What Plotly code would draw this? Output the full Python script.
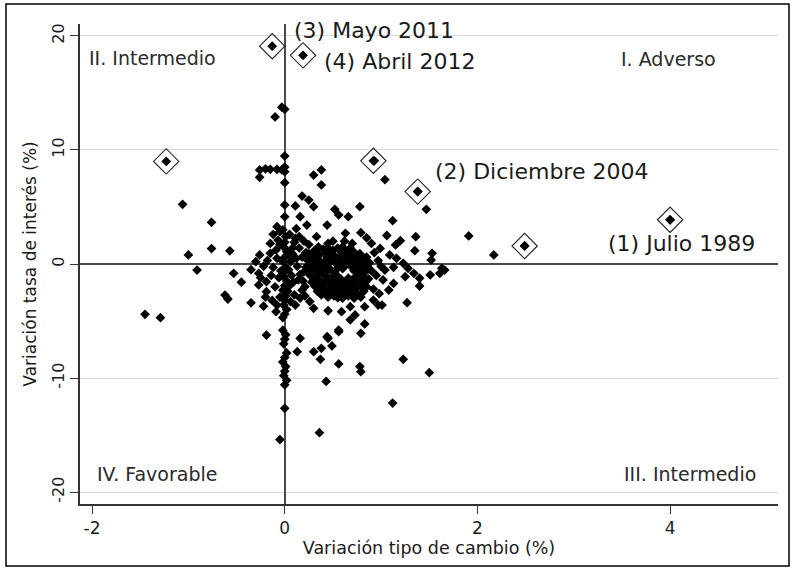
import plotly.graph_objects as go

# Monthly observations: exchange-rate change (x, %) vs interest-rate change (y, %)
x_var = [
    # left / outlying points
    -1.06, -0.76, -0.76, -0.57, -1.00, -0.91, -0.53, -1.45, -1.29, -0.62, -0.59, -0.35,
    -0.22, -0.19, -0.27, -0.27, -0.19, -0.19, -0.26, -0.15, -0.09, -0.09, -0.05, 0.00,
    -0.15, -0.08, -0.05,
    # upper strip near zero
    -0.10, -0.03, 0.00, 0.00, -0.26, -0.20, -0.15, -0.08, -0.03, 0.00, -0.26, 0.00,
    0.00, 0.11, 0.00,
    # upper middle / right
    0.18, 0.25, 0.30, 0.30, 0.38, 0.38, 0.78, 1.04, 1.12, 0.93, 1.38, 1.47,
    1.91, 0.52, 0.56, 0.66, 0.44, 0.16, 0.23, 0.79, 0.63, 0.33, 0.11, 1.06,
    1.20, 1.36, 0.90, 1.15, 1.35, 1.53, 1.52, 2.17, 2.49, 4.00, 1.09, 1.16,
    1.23, 1.28, 1.63, 1.61, 1.51, 1.66, 1.04, 1.13, 1.25, 1.34, 1.40, 1.40,
    1.13, 1.08, 1.27, 1.01, 0.99,
    # lower
    0.30, 0.45, 0.59, 0.68, 0.73, 0.68, 0.83, 0.92, 0.97, 0.42, 0.21, 0.56,
    0.83, 0.16, 0.45, 0.13, 0.44, 0.56, 0.79, 0.30, 0.38, 0.49, 0.37, 0.56,
    0.78, 0.79, 1.23, 1.50, 0.43, 1.12, 0.36,
    # vertical strip at zero
    0.00, -0.02, 0.01, 0.00, -0.01, 0.02, 0.00, -0.02, 0.01, 0.00, -0.01, 0.02,
    0.00, -0.02, 0.01, 0.00, -0.01, 0.02, 0.00, -0.02, 0.01, 0.00, -0.01, 0.02,
    0.00, -0.02, 0.01, 0.00, -0.01, 0.02, 0.00, -0.02,
    # dense core
    0.25, 0.32, 0.40, 0.48, 0.55, 0.62, 0.70, 0.78, 0.85,
    0.24, 0.30, 0.37, 0.44, 0.51, 0.58, 0.66, 0.73, 0.81, 0.88,
    0.22, 0.29, 0.35, 0.42, 0.49, 0.55, 0.61, 0.69, 0.76, 0.83, 0.90,
    0.26, 0.33, 0.40, 0.47, 0.54, 0.74, 0.81, 0.87,
    0.28, 0.36, 0.43, 0.50, 0.57, 0.64, 0.71, 0.78, 0.85,
    0.34, 0.41, 0.48, 0.55, 0.62, 0.69, 0.76, 0.82,
    0.45, 0.60, 0.72, 0.58, 0.66, 0.60, 0.39, 0.52, 0.45, 0.31, 0.67, 0.75,
    0.28, 0.36, 0.44, 0.52, 0.59, 0.67, 0.75, 0.82,
    0.27, 0.33, 0.40, 0.47, 0.54, 0.62, 0.70, 0.77, 0.85,
    0.25, 0.31, 0.38, 0.45, 0.52, 0.58, 0.72, 0.79, 0.86,
    0.30, 0.37, 0.44, 0.51, 0.57, 0.63, 0.70, 0.77, 0.84,
    0.32, 0.39, 0.46, 0.53, 0.60, 0.67, 0.74, 0.81,
    0.38, 0.51, 0.58, 0.66, 0.79, 0.35, 0.45, 0.60, 0.68, 0.50,
    0.26, 0.34, 0.42, 0.50, 0.58, 0.66, 0.74, 0.82,
    0.30, 0.38, 0.46, 0.54, 0.71, 0.79, 0.87,
    0.27, 0.35, 0.43, 0.51, 0.59, 0.67, 0.75, 0.83,
    0.33, 0.41, 0.49, 0.57, 0.65, 0.73, 0.81,
    0.40, 0.48, 0.56, 0.64, 0.72, 0.31, 0.47, 0.63, 0.79, 0.55,
    # between zero line and core
    0.05, 0.10, 0.15, 0.08, 0.18, 0.06, 0.13, 0.20, 0.07, 0.14, 0.05, 0.18,
    0.10, 0.06, 0.16, 0.20, 0.25, 0.12,
    0.03, 0.04, 0.09, 0.12, 0.16, 0.03, 0.11, 0.08, 0.15, 0.19, 0.22, 0.21, 0.26,
    -0.08, -0.12, -0.06, -0.10, -0.05, -0.13, -0.07, -0.04,
    -0.18, -0.22, -0.25, -0.14, -0.20, -0.08, -0.30, -0.12, -0.05, -0.35, -0.45,
    0.93, 0.97, 1.00, 0.95, 1.02, 0.92, 0.98, 0.50, 0.70, 0.45, 0.62, 0.85,
]
y_var = [
    5.24, 3.66, 1.35, 1.16, 0.79, -0.53, -0.82, -4.41, -4.71, -2.72, -3.07, -3.40,
    -3.70, -6.23, -0.82, -1.84, -1.55, -2.43, 0.79, 0.94, 1.23, -4.18, -15.40, -12.66,
    1.80, 3.27, 2.83,
    12.90, 13.75, 13.57, 9.47, 8.25, 8.35, 8.30, 8.30, 8.25, 8.50, 7.60, 8.10,
    7.13, 5.09, 5.18,
    5.96, 5.61, 5.03, 7.80, 8.25, 6.93, 5.03, 7.40, 3.80, 9.05, 6.35, 4.80,
    2.46, 4.80, 4.30, 4.15, 3.42, 4.15, 3.42, 2.75, 2.69, 2.40, 2.25, 2.50,
    2.05, 2.40, 1.80, 1.67, 1.17, 0.94, 0.35, 0.79, 1.58, 3.88, 0.79, 0.50,
    0.06, -0.38, -0.38, -0.82, -0.96, -0.53, -0.53, -0.29, -1.11, -0.82, -1.25, -1.93,
    -1.70, -2.28, -3.39, -3.60, 1.37,
    -3.89, -4.10, -4.18, -3.74, -4.47, -4.90, -3.74, -3.16, -3.60, -2.28, -1.99, -5.79,
    -5.26, -6.52, -6.52, -7.69, -6.38, -5.94, -6.08, -7.69, -7.40, -7.19, -8.36, -8.77,
    -9.00, -9.45, -8.36, -9.53, -10.30, -12.20, -14.80,
    4.15, 3.00, 2.40, 1.90, 1.50, 1.10, 0.60, 0.20, -0.30, -0.70, -1.10, -1.50,
    -1.90, -2.30, -2.80, -3.20, -3.60, -4.00, -4.40, -5.80, -6.20, -6.60, -7.00, -7.80,
    -8.20, -8.60, -9.00, -9.40, -9.80, -10.20, -10.60, -4.70,
    0.90, 1.10, 1.30, 1.00, 1.40, 1.10, 1.20, 0.90, 0.60,
    0.30, 0.50, 0.20, 0.60, 0.30, 0.70, 0.40, 0.50, 0.20, 0.10,
    -0.30, -0.10, -0.50, -0.20, -0.60, -0.10, -0.30, -0.20, -0.50, -0.30, -0.60,
    -0.90, -1.20, -0.90, -1.30, -1.00, -1.10, -0.90, -1.30,
    -1.60, -1.80, -1.60, -2.00, -1.70, -1.50, -1.90, -1.70, -2.00,
    -2.40, -2.20, -2.60, -2.30, -2.60, -2.40, -2.70, -2.40,
    -2.90, -3.00, -3.00, -1.30, -1.25, -0.40, -0.60, -1.60, 0.00, -1.90, -2.10, -0.20,
    0.60, 0.80, 0.90, 0.70, 1.00, 0.80, 0.80, 0.50,
    0.00, 0.20, 0.00, 0.20, 0.00, 0.10, 0.10, 0.00, -0.10,
    -0.60, -0.50, -0.70, -0.50, -0.80, -0.20, -0.60, -0.70, -0.50,
    -1.30, -1.50, -1.10, -1.50, -1.60, -1.80, -1.40, -1.40, -1.60,
    -2.00, -1.90, -2.20, -2.20, -2.20, -2.00, -2.20, -2.10,
    -2.70, -2.80, -2.70, -2.80, -2.90, 1.50, 1.40, 1.50, 1.40, 1.20,
    0.35, 0.45, 0.25, 0.45, 0.35, 0.55, 0.30, 0.40,
    -0.35, -0.15, -0.40, -0.45, -0.35, -0.15, -0.35,
    -1.05, -0.85, -1.45, -1.15, -1.45, -1.40, -1.15, -1.25,
    -1.75, -2.05, -1.80, -2.05, -1.75, -1.70, -1.85,
    -2.45, -2.35, -2.50, -2.35, -2.55, 1.20, 1.10, 1.00, 0.60, -2.95,
    2.60, 1.90, 1.40, 0.90, 0.60, 0.20, -0.20, -0.70, -1.00, -1.40, -1.90, -2.30,
    -2.70, -3.30, -3.00, 2.00, 1.70, 3.10,
    0.80, -0.50, -1.60, 0.50, -0.90, -2.40, -3.60, 1.40, 2.40, -1.50, 1.00, -2.80, -3.30,
    0.50, -0.30, -1.20, -2.00, -2.90, -3.20, 2.10, -0.60,
    0.30, -0.20, -1.20, -1.00, -2.90, -3.60, 0.20, 2.60, 1.70, -0.50, -1.60,
    1.00, 0.30, -0.20, -1.00, -1.40, -2.20, -2.60, 2.00, 1.80, 1.80, 2.00, 2.30,
]

# Highlighted episodes (hollow diamonds)
hi_x = [4.00, 1.38, -0.13, 0.19, -1.23, 0.92, 2.49]
hi_y = [3.88, 6.35, 19.10, 18.30, 9.00, 9.05, 1.58]

# Episode labels
ep_text = ["(3) Mayo 2011", "(4) Abril 2012", "(2) Diciembre 2004", "(1) Julio 1989"]
ep_x = [0.93, 1.19, 2.67, 4.12]
ep_y = [20.45, 17.8, 8.07, 1.84]

# Quadrant labels
q_text = ["II. Intermedio", "I. Adverso", "IV. Favorable", "III. Intermedio"]
q_x = [-1.37, 3.98, -1.33, 4.21]
q_y = [18.1, 18.0, -18.4, -18.4]

x_ticks = [-2, 0, 2, 4]
x_tick_text = ["-2", "0", "2", "4"]
y_ticks = [-20, -10, 0, 10, 20]
y_tick_text = ["-20", "-10", "0", "10", "20"]

FONT = "DejaVu Sans"
TXT = "#1a1a1a"

fig = go.Figure()
fig.add_trace(go.Scatter(
    x=x_var + hi_x, y=y_var + hi_y, mode="markers",
    marker=dict(symbol="diamond", size=7.5, color="black", line=dict(width=0)),
    hoverinfo="skip", showlegend=False,
))
fig.add_trace(go.Scatter(
    x=hi_x, y=hi_y, mode="markers",
    marker=dict(symbol="diamond-open", size=19.5, color="#222222", line=dict(width=1.1, color="#222222")),
    hoverinfo="skip", showlegend=False,
))

for t, x, y in zip(ep_text, ep_x, ep_y):
    fig.add_annotation(x=x, y=y, text=t, showarrow=False, xanchor="center", yanchor="middle",
                       font=dict(family=FONT, size=22, color=TXT))
for t, x, y in zip(q_text, q_x, q_y):
    fig.add_annotation(x=x, y=y, text=t, showarrow=False, xanchor="center", yanchor="middle",
                       font=dict(family=FONT, size=19, color="#2a2a2a"))

# outer frame
L, T, W, H = 80, 24, 698, 480
def px(v):
    return (v - L) / W
def py(v):
    return (T + H - v) / H
fig.add_shape(type="rect", xref="paper", yref="paper",
              x0=px(6), x1=px(789), y0=py(566), y1=py(4),
              line=dict(color="black", width=1.5), fillcolor="rgba(0,0,0,0)")

fig.update_layout(
    width=794, height=569, autosize=False,
    margin=dict(l=L, r=794 - L - W, t=T, b=569 - T - H),
    paper_bgcolor="white", plot_bgcolor="white",
    font=dict(family=FONT, color=TXT),
    xaxis=dict(
        range=[-2.125, 5.12], tickvals=x_ticks, ticktext=x_tick_text, ticks="outside", ticklen=8, tickwidth=1,
        tickcolor="#333333", showline=True, linecolor="#333333", linewidth=1.5,
        showgrid=False, zeroline=True, zerolinecolor="#4a4a4a", zerolinewidth=1.5,
        tickfont=dict(size=17, family=FONT, color=TXT),
        title=dict(text="Variación tipo de cambio (%)", font=dict(size=17.5, family=FONT, color=TXT), standoff=4),
    ),
    yaxis=dict(
        range=[-21.05, 21.05], tickvals=y_ticks, ticktext=y_tick_text, tickangle=-90, ticks="outside", ticklen=8,
        tickwidth=1, tickcolor="#333333", showline=True, linecolor="#333333", linewidth=1.5,
        showgrid=True, gridcolor="#dadada", gridwidth=1,
        zeroline=True, zerolinecolor="#4a4a4a", zerolinewidth=1.5,
        tickfont=dict(size=16, family=FONT, color=TXT),
        title=dict(text="Variación tasa de interés (%)", font=dict(size=17, family=FONT, color=TXT), standoff=8),
    ),
)

fig.write_html(
    "out.html",
    config={"displayModeBar": False},
    post_script="document.body.style.margin='0';document.documentElement.style.overflow='hidden';",
)
